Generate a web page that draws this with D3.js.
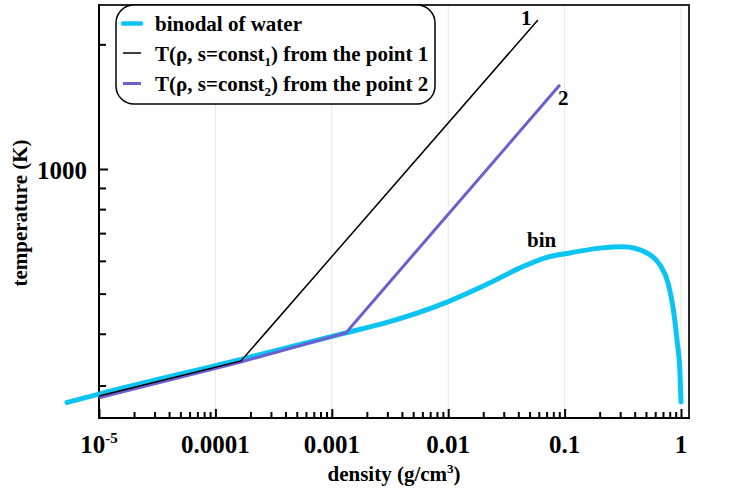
<!DOCTYPE html>
<html><head><meta charset="utf-8">
<script src="https://cdn.jsdelivr.net/npm/d3@7"></script>
<style>
body{margin:0;background:#fff}
svg{display:block}
text{font-family:"Liberation Serif","Times New Roman",serif;font-weight:bold;fill:#000}
</style>
</head><body>
<svg id="chart" width="735" height="492"></svg>
<script>
// ---- data ----
const binodalDensity = [5.3e-6, 1e-5, 1.66e-4, 1.32e-3, 2.98e-3, 0.00977, 0.0229, 0.0414, 0.0706, 0.111, 0.201, 0.318, 0.51, 0.66, 0.773, 0.853, 0.924, 0.98, 1.0];
const binodalTemp    = [273, 286, 347, 402, 426, 477, 531, 577, 612, 627, 644, 649, 627, 586, 531, 464, 386, 321, 274];
const line1Density = [1e-5, 1.66e-4, 0.059];
const line1Temp    = [283, 344, 2291];
const line2Density = [1e-5, 1.66e-4, 1.32e-3, 0.0912];
const line2Temp    = [280, 342, 402, 1597];
const xMajorTicks = [1e-5, 1e-4, 1e-3, 1e-2, 0.1, 1];
const xTickLabels = ["10|-5", "0.0001", "0.001", "0.01", "0.1", "1"];
const yMajorTicks = [1000];
const yTickLabels = ["1000"];
const yMinorTicks = [300, 400, 500, 600, 700, 800, 900, 2000];
const legendLabels = ["binodal of water", "T(ρ, s=const|1|) from the point 1", "T(ρ, s=const|2|) from the point 2"];
const curveLabels = ["1", "2", "bin"];

// ---- layout ----
const L = 99, R = 689, T = 5, B = 418;
const svg = d3.select("#chart");
const x = d3.scaleLog().domain([1e-5, 1.171]).range([L, R]);
const y = d3.scaleLog().domain([250.4, 2489]).range([B, T]);

const xMinorTicks = [];
for (let d = 1e-5; d < 0.5; d *= 10) for (let k = 2; k <= 9; k++) xMinorTicks.push(+(d * k).toPrecision(3));

// grid
svg.append("g").selectAll("line").data(xMajorTicks.slice(1)).join("line")
  .attr("x1", d => x(d)).attr("x2", d => x(d)).attr("y1", T).attr("y2", B)
  .attr("stroke", "#e6e6e6").attr("stroke-width", 1);

// frame
svg.append("rect").attr("x", L).attr("y", T).attr("width", R - L).attr("height", B - T)
  .attr("fill", "none").attr("stroke", "#2a2a2a").attr("stroke-width", 2);

// axes (inward ticks)
function styleAxis(g) {
  g.select(".domain").remove();
  g.selectAll("line").attr("stroke", "#000").attr("stroke-width", 2);
}
svg.append("g").attr("transform", `translate(0,${B})`)
  .call(d3.axisBottom(x).tickValues(xMinorTicks).tickSize(-6).tickFormat(""))
  .call(styleAxis);
svg.append("g").attr("transform", `translate(0,${B})`)
  .call(d3.axisBottom(x).tickValues(xMajorTicks).tickSize(-9).tickFormat(""))
  .call(styleAxis);
svg.append("g").attr("transform", `translate(${L},0)`)
  .call(d3.axisLeft(y).tickValues(yMinorTicks).tickSize(-7).tickFormat(""))
  .call(styleAxis);
svg.append("g").attr("transform", `translate(${L},0)`)
  .call(d3.axisLeft(y).tickValues(yMajorTicks).tickSize(-9).tickFormat(""))
  .call(styleAxis);
svg.append("line").attr("x1", L).attr("x2", L).attr("y1", T - 1).attr("y2", B + 1).attr("stroke", "#000").attr("stroke-width", 2);
svg.append("line").attr("x1", L - 1).attr("x2", R + 1).attr("y1", B).attr("y2", B).attr("stroke", "#000").attr("stroke-width", 2);

// tick labels
xMajorTicks.forEach((v, i) => {
  const parts = xTickLabels[i].split("|");
  const t = svg.append("text").attr("x", x(v)).attr("y", 453).attr("text-anchor", "middle").attr("font-size", 25);
  t.append("tspan").text(parts[0]);
  if (parts[1]) t.append("tspan").attr("font-size", 15).attr("dy", -10).text(parts[1]);
});
yMajorTicks.forEach((v, i) => {
  svg.append("text").attr("x", 87).attr("y", y(v) + 10).attr("text-anchor", "end").attr("font-size", 25).text(yTickLabels[i]);
});

// axis titles
const xt = svg.append("text").attr("x", 394).attr("y", 481).attr("text-anchor", "middle").attr("font-size", 21);
xt.append("tspan").text("density (g/cm");
xt.append("tspan").attr("font-size", 13).attr("dy", -8).text("3");
xt.append("tspan").attr("dy", 8).text(")");
svg.append("text").attr("transform", "translate(27,213) rotate(-90)").attr("text-anchor", "middle").attr("font-size", 21).text("temperature (K)");

// lines
const binData = binodalDensity.map((d, i) => [d, binodalTemp[i]]);
const l1Data = line1Density.map((d, i) => [d, line1Temp[i]]);
const l2Data = line2Density.map((d, i) => [d, line2Temp[i]]);
const cCyan = "#0cc4f2", cPurple = "#6a5fd0";
svg.append("path").datum(binData)
  .attr("d", d3.line().x(d => x(d[0])).y(d => y(d[1])).curve(d3.curveMonotoneX))
  .attr("fill", "none").attr("stroke", cCyan).attr("stroke-width", 5).attr("stroke-linecap", "round").attr("stroke-linejoin", "round");
svg.append("path").datum(l2Data).attr("d", d3.line().x(d => x(d[0])).y(d => y(d[1])))
  .attr("fill", "none").attr("stroke", cPurple).attr("stroke-width", 3);
svg.append("path").datum(l1Data).attr("d", d3.line().x(d => x(d[0])).y(d => y(d[1])))
  .attr("fill", "none").attr("stroke", "#000").attr("stroke-width", 1.5);

// curve labels
const n1 = line1Density.length - 1, n2 = line2Density.length - 1;
svg.append("text").attr("x", x(line1Density[n1]) - 17).attr("y", y(line1Temp[n1]) + 5).attr("font-size", 21).text(curveLabels[0]);
svg.append("text").attr("x", x(line2Density[n2]) - 2).attr("y", y(line2Temp[n2]) + 20).attr("font-size", 21).text(curveLabels[1]);
svg.append("text").attr("x", 527).attr("y", 247).attr("font-size", 21).text(curveLabels[2]);

// legend
svg.append("rect").attr("x", 116).attr("y", 5).attr("width", 319).attr("height", 99).attr("rx", 18).attr("ry", 18)
  .attr("fill", "#fff").attr("stroke", "#000").attr("stroke-width", 1.5);
const legendColors = [cCyan, "#000", cPurple];
const legendWidths = [4.5, 1.5, 3];
const legendLineY = [23.5, 53, 83.5];
const legendTextY = [31, 61, 91];
legendLabels.forEach((lab, i) => {
  svg.append("line").attr("x1", 123).attr("x2", 141).attr("y1", legendLineY[i]).attr("y2", legendLineY[i])
    .attr("stroke", legendColors[i]).attr("stroke-width", legendWidths[i]).attr("stroke-linecap", i === 0 ? "round" : "butt");
  const parts = lab.split("|");
  const t = svg.append("text").attr("x", 155).attr("y", legendTextY[i]).attr("font-size", 21);
  t.append("tspan").text(parts[0]);
  if (parts.length > 1) {
    t.append("tspan").attr("font-size", 13).attr("dy", 5).text(parts[1]);
    t.append("tspan").attr("dy", -5).text(parts[2]);
  }
});
</script>
</body></html>
